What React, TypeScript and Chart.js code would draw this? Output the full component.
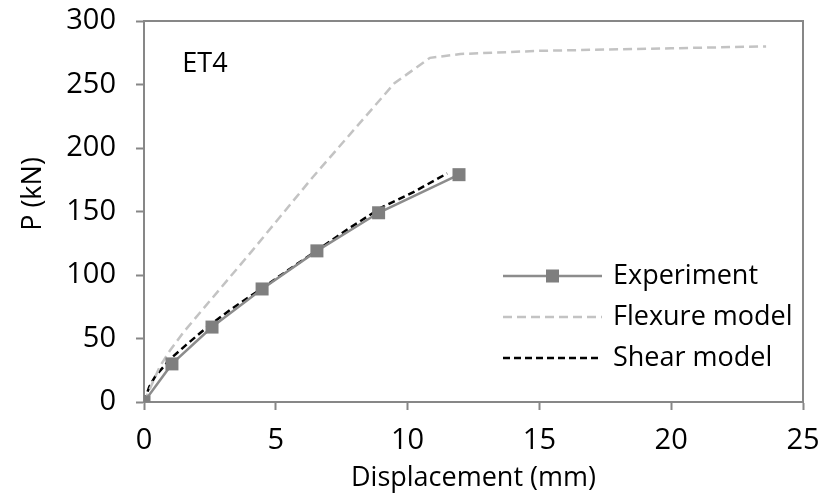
import React, { useEffect, useRef } from "react";
import { Chart, registerables } from "chart.js";

Chart.register(...registerables);

const expX = [0, 1.06, 2.58, 4.48, 6.56, 8.9, 11.95];
const expY = [0, 30, 59, 89, 119, 149, 179];

const flexX = [0, 0.3, 0.6, 1.0, 1.5, 4.1, 6.4, 9.5, 10.85, 12, 15, 20, 23.6];
const flexY = [0, 14, 28, 41, 55, 119, 177, 251, 271, 274, 276.5, 278.5, 280];

const shearX = [0, 0.2, 0.42, 1.0, 1.6, 2.4, 3.3, 4.3, 5.2, 6.6, 7.8, 9.0, 10.2, 11.5];
const shearY = [0, 12, 20, 34, 45, 59, 73, 87, 100, 120, 137, 153, 165, 180];

const seriesNames = ["Experiment", "Flexure model", "Shear model"];
const xTitle = "Displacement (mm)";
const yTitle = "P (kN)";
const panelLabel = "ET4";

const FONT = "'Open Sans', sans-serif";
const AXIS = "#878787";

const toPts = (xs: number[], ys: number[]) => xs.map((x, i) => ({ x, y: ys[i] }));

const framePlugin = {
  id: "frame",
  afterDraw(chart: any) {
    const { ctx, chartArea: a } = chart;
    ctx.save();
    ctx.strokeStyle = AXIS;
    ctx.lineWidth = 2;
    ctx.beginPath();
    ctx.moveTo(a.left, a.top);
    ctx.lineTo(a.right, a.top);
    ctx.lineTo(a.right, a.bottom);
    ctx.stroke();
    // y axis title
    ctx.save();
    ctx.translate(33, 194);
    ctx.rotate(-Math.PI / 2);
    ctx.fillStyle = "#000";
    ctx.font = `27px ${FONT}`;
    ctx.textAlign = "center";
    ctx.textBaseline = "middle";
    ctx.fillText(yTitle, 0, 0);
    ctx.restore();
    // panel label
    ctx.fillStyle = "#000";
    ctx.font = `27px ${FONT}`;
    ctx.textAlign = "center";
    ctx.textBaseline = "middle";
    ctx.fillText(panelLabel, 205, 64);
    // legend
    const rows = [276, 317, 358];
    const x0 = 503, x1 = 602;
    chart.data.datasets.forEach((ds: any, i: number) => {
      const y = rows[i];
      ctx.save();
      ctx.strokeStyle = ds.borderColor;
      ctx.lineWidth = ds.borderWidth;
      ctx.setLineDash(ds.borderDash || []);
      ctx.beginPath();
      ctx.moveTo(x0, y);
      ctx.lineTo(x1, y);
      ctx.stroke();
      ctx.restore();
      if (ds.pointRadius > 0) {
        const s = 13;
        ctx.fillStyle = ds.pointBackgroundColor;
        ctx.fillRect((x0 + x1) / 2 - s / 2, y - s / 2, s, s);
      }
      ctx.fillStyle = "#000";
      ctx.textAlign = "left";
      ctx.textBaseline = "middle";
      ctx.font = `27px ${FONT}`;
      ctx.fillText(ds.label, 613, y);
    });
    ctx.restore();
  },
};

const zeroPad = (s: any) => {
  s.paddingTop = 0;
  s.paddingBottom = 0;
  s.paddingLeft = 0;
  s.paddingRight = 0;
};

export default function App() {
  const ref = useRef<HTMLCanvasElement>(null);
  useEffect(() => {
    if (!ref.current) return;
    const chart = new Chart(ref.current, {
      type: "scatter",
      data: {
        datasets: [
          {
            label: seriesNames[0],
            data: toPts(expX, expY),
            showLine: true,
            borderColor: "#8c8c8c",
            borderWidth: 2.5,
            pointStyle: "rect",
            pointRadius: 9.2,
            pointBackgroundColor: "#7f7f7f",
            pointBorderWidth: 0,
            tension: 0,
          },
          {
            label: seriesNames[1],
            data: toPts(flexX, flexY),
            showLine: true,
            borderColor: "#c3c3c3",
            borderWidth: 2.5,
            borderDash: [9, 5],
            pointRadius: 0,
            tension: 0,
          },
          {
            label: seriesNames[2],
            data: toPts(shearX, shearY),
            showLine: true,
            borderColor: "#000000",
            borderWidth: 2.5,
            borderDash: [7, 4],
            pointRadius: 0,
            tension: 0,
          },
        ] as any,
      },
      options: {
        animation: false,
        responsive: false,
        layout: { padding: { top: 21, right: 30, left: 0, bottom: 0 } },
        plugins: { legend: { display: false }, tooltip: { enabled: false } },
        scales: {
          x: {
            type: "linear",
            min: 0,
            max: 25,
            ticks: { stepSize: 5, color: "#000", font: { family: FONT, size: 29 }, padding: 13 },
            grid: { drawOnChartArea: false, tickLength: 8, tickColor: AXIS, tickWidth: 2 },
            border: { color: AXIS, width: 2 },
            title: { display: true, text: xTitle, color: "#000", font: { family: FONT, size: 27 }, padding: { top: 0, bottom: 0 } },
            afterFit: (s: any) => { s.height = 93; zeroPad(s); },
          },
          y: {
            type: "linear",
            min: 0,
            max: 300,
            ticks: { stepSize: 50, color: "#000", font: { family: FONT, size: 29 }, padding: 20 },
            grid: { drawOnChartArea: false, tickLength: 8, tickColor: AXIS, tickWidth: 2 },
            border: { color: AXIS, width: 2 },
            title: { display: false, text: yTitle },
            afterFit: (s: any) => { s.width = 144; zeroPad(s); },
          },
        },
      },
      plugins: [framePlugin],
    });
    return () => chart.destroy();
  }, []);
  return (
    <div style={{ position: "absolute", left: 0, top: 0, width: 833, height: 495 }}>
      <canvas ref={ref} width={833} height={495} />
    </div>
  );
}
